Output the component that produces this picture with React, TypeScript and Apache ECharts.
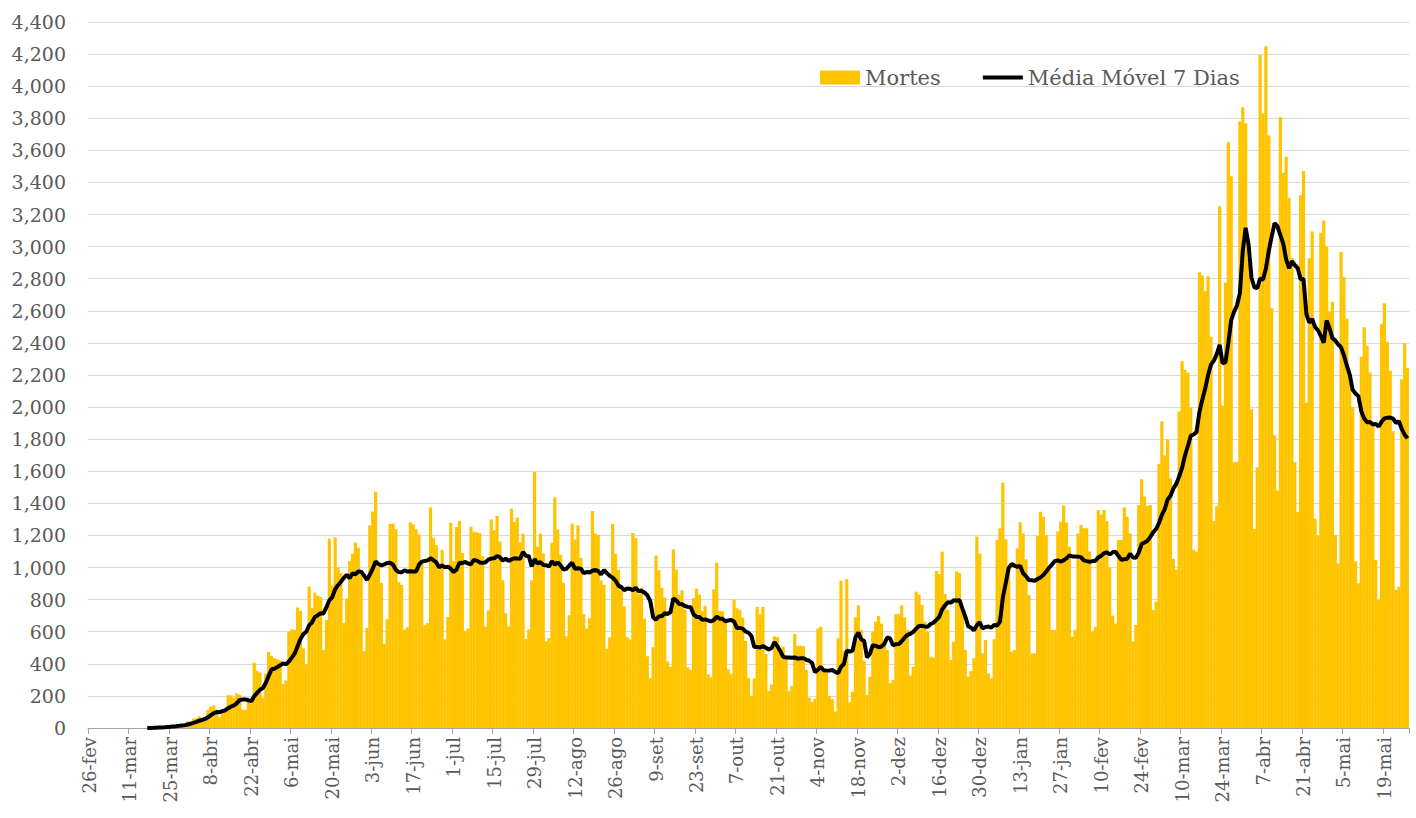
import React, { useEffect, useRef } from "react";
import * as echarts from "echarts";

const monthAbbr = ["jan", "fev", "mar", "abr", "mai", "jun", "jul", "ago", "set", "out", "nov", "dez"];
const startDate = { year: 2020, month: 1, day: 26 };
const labelEveryDays = 14;

// daily deaths, one row per week (Wed..Tue), starting 26-fev-2020
const dailyDeaths = [
  0, 0, 0, 0, 0, 0, 0,
  0, 0, 0, 0, 0, 0, 0,
  0, 0, 0, 0, 0, 0, 1,
  3, 3, 4, 7, 7, 9, 12,
  11, 20, 15, 22, 22, 23, 42,
  40, 58, 60, 73, 54, 67, 114,
  133, 141, 115, 68, 99, 105, 204,
  204, 188, 217, 206, 115, 113, 166,
  165, 407, 357, 346, 189, 338, 474,
  449, 435, 428, 421, 275, 296, 600,
  615, 610, 751, 730, 496, 396, 881,
  749, 844, 824, 816, 485, 674, 1179,
  888, 1188, 1001, 965, 653, 807, 1039,
  1086, 1156, 1124, 956, 480, 623, 1262,
  1349, 1473, 1005, 904, 525, 679, 1272,
  1274, 1239, 909, 892, 612, 627, 1282,
  1269, 1238, 1206, 1022, 641, 654, 1374,
  1185, 1141, 990, 1109, 552, 692, 1280,
  1038, 1252, 1290, 1091, 602, 620, 1254,
  1223, 1220, 1214, 1071, 631, 733, 1300,
  1233, 1322, 1163, 921, 716, 632, 1367,
  1284, 1311, 1156, 1211, 555, 614, 921,
  1595, 1129, 1212, 1088, 541, 561, 1154,
  1437, 1237, 1079, 905, 572, 703, 1274,
  1175, 1262, 1060, 709, 620, 684, 1352,
  1212, 1204, 920, 892, 494, 565, 1271,
  1085, 984, 855, 758, 566, 553, 1215,
  1184, 834, 874, 682, 447, 310, 504,
  1075, 983, 874, 814, 415, 381, 1113,
  987, 829, 858, 739, 377, 363, 809,
  869, 831, 729, 761, 335, 317, 863,
  1031, 729, 728, 657, 366, 335, 800,
  746, 735, 686, 543, 310, 201, 309,
  754, 711, 754, 461, 230, 271, 571,
  566, 497, 506, 432, 230, 263, 586,
  510, 513, 510, 363, 190, 162, 183,
  620, 632, 370, 346, 200, 180, 103,
  560, 918, 480, 928, 160, 226, 690,
  765, 611, 420, 206, 320, 600, 663,
  698, 650, 530, 486, 280, 300, 710,
  710, 765, 690, 611, 326, 382, 850,
  830, 767, 663, 600, 444, 438, 978,
  960, 1099, 835, 736, 424, 538, 975,
  964, 736, 486, 320, 355, 434, 1193,
  1088, 465, 549, 340, 309, 553, 1172,
  1244, 1529, 1176, 1000, 476, 486, 1120,
  1282, 1213, 1051, 829, 465, 465, 1197,
  1348, 1317, 1203, 1000, 611, 611, 1224,
  1286, 1386, 1280, 1130, 569, 611, 1213,
  1265, 1245, 1245, 1100, 600, 630, 1359,
  1330, 1359, 1290, 1000, 700, 650, 1172,
  1172, 1375, 1317, 1213, 539, 642, 1390,
  1550, 1442, 1384, 1390, 735, 788, 1645,
  1910, 1699, 1800, 1555, 1054, 987, 1972,
  2286, 2233, 2216, 1997, 1111, 1100, 2841,
  2820, 2724, 2815, 2438, 1290, 1383, 3251,
  2009, 2777, 3650, 3438, 1656, 1660, 3780,
  3869, 3769, 2922, 1987, 1240, 1623, 4195,
  3829, 4249, 3693, 2616, 1824, 1480, 3808,
  3459, 3560, 3305, 2929, 1657, 1347, 3321,
  3472, 2027, 2928, 3094, 1305, 1202, 3086,
  3163, 3001, 2595, 2656, 1202, 1025, 2966,
  2811, 2550, 2202, 2000, 1037, 902, 2314,
  2497, 2383, 2215, 1900, 1047, 797, 2518,
  2647, 2408, 2227, 1850, 860, 880, 2173,
  2399, 2245,
];

const yTicks = { min: 0, max: 4400, interval: 200 };

function buildDates(n: number): string[] {
  const out: string[] = [];
  for (let i = 0; i < n; i++) {
    const d = new Date(Date.UTC(startDate.year, startDate.month, startDate.day + i));
    out.push(`${d.getUTCDate()}-${monthAbbr[d.getUTCMonth()]}`);
  }
  return out;
}

function movingAverage(values: number[], win: number): (number | null)[] {
  const first = values.findIndex((v) => v > 0);
  return values.map((_, i) => {
    if (i < first || i < win - 1) return null;
    let s = 0;
    for (let k = i - win + 1; k <= i; k++) s += values[k];
    return Math.round((s / win) * 10) / 10;
  });
}

// thick horizontal bar centred in a 40x14 box (tiny corner marks keep the box size)
const lineIcon =
  "path://M0,0L0.05,0L0.05,0.05Z M0,5H40V9H0Z M39.95,14L40,14L40,13.95Z";

export default function App() {
  const ref = useRef<HTMLDivElement>(null);
  useEffect(() => {
    document.body.style.margin = "0";
    const chart = echarts.init(ref.current as HTMLDivElement, null, { renderer: "svg" });
    const dates = buildDates(dailyDeaths.length);
    const ma = movingAverage(dailyDeaths, 7);
    const font = "DejaVu Serif";
    const grey = "#595959";
    chart.setOption({
      animation: false,
      backgroundColor: "#ffffff",
      grid: { left: 88, right: 7, top: 22, bottom: 90, containLabel: false },
      legend: {
        left: 815,
        top: 62,
        itemWidth: 40,
        itemHeight: 14,
        itemGap: 42,
        textStyle: { fontFamily: font, fontSize: 21, color: grey },
        data: [
          { name: "Mortes", icon: "rect" },
          { name: "Média Móvel 7 Dias", icon: lineIcon, itemStyle: { color: "#000000" } },
        ],
      },
      xAxis: {
        type: "category",
        data: dates,
        boundaryGap: true,
        axisLine: { show: true, lineStyle: { color: "#a6a6a6", width: 1 } },
        axisTick: { show: true, interval: labelEveryDays - 1, length: 6, lineStyle: { color: "#a6a6a6" } },
        axisLabel: {
          interval: labelEveryDays - 1,
          rotate: 90,
          margin: 9,
          color: grey,
          fontFamily: font,
          fontSize: 18,
        },
        splitLine: { show: false },
      },
      yAxis: {
        type: "value",
        min: yTicks.min,
        max: yTicks.max,
        interval: yTicks.interval,
        axisLine: { show: false },
        axisTick: { show: false },
        axisLabel: {
          color: grey,
          fontFamily: font,
          fontSize: 19,
          margin: 22,
          formatter: (v: number) => v.toLocaleString("en-US"),
        },
        splitLine: { show: true, lineStyle: { color: "#d9d9d9", width: 1 } },
      },
      series: [
        {
          name: "Mortes",
          type: "bar",
          data: dailyDeaths,
          barWidth: 3.2,
          barGap: "-100%",
          itemStyle: { color: "#FFC400" },
          z: 1,
        },
        {
          name: "Média Móvel 7 Dias",
          type: "line",
          data: ma,
          symbol: "none",
          showSymbol: false,
          connectNulls: false,
          lineStyle: { color: "#000000", width: 4 },
          itemStyle: { color: "#000000" },
          z: 3,
        },
      ],
    });
    return () => chart.dispose();
  }, []);
  return <div ref={ref} style={{ width: 1416, height: 818 }} />;
}
